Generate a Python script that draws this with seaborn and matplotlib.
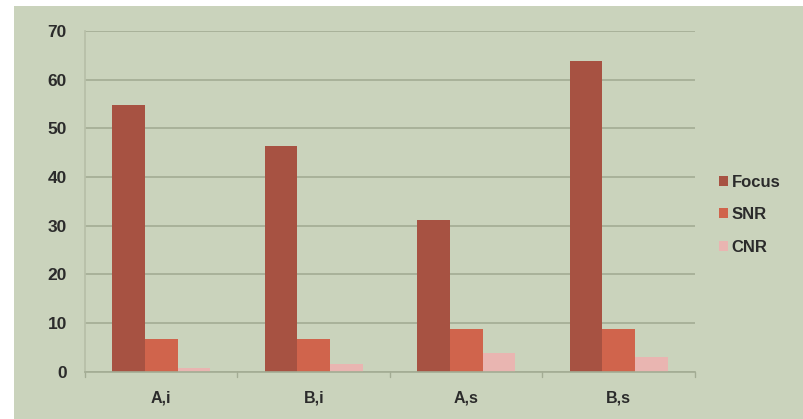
import matplotlib
matplotlib.use("Agg")
import matplotlib.pyplot as plt
from matplotlib.patches import Rectangle
import seaborn as sns
import pandas as pd

categories = ["A,i", "B,i", "A,s", "B,s"]
focus = [54.8, 46.3, 31.1, 63.8]
snr = [6.7, 6.6, 8.7, 8.7]
cnr = [0.8, 1.5, 3.9, 3.0]
series_names = ["Focus", "SNR", "CNR"]
y_ticks = [0, 10, 20, 30, 40, 50, 60, 70]

bg = "#cad3bc"
grid_col = "#a3ac94"
text_col = "#2b2b2b"
palette = {"Focus": "#a75242", "SNR": "#d0644c", "CNR": "#e9b5b1"}

rows = []
for name, vals in zip(series_names, [focus, snr, cnr]):
    for cat, v in zip(categories, vals):
        rows.append({"cat": cat, "series": name, "value": v})
df = pd.DataFrame(rows)

sns.set_theme(style="white")
plt.rcParams["font.family"] = ["Liberation Sans", "DejaVu Sans"]

fig = plt.figure(figsize=(8.04, 4.19), dpi=100)
fig.patch.set_facecolor("white")
fig.patches.append(Rectangle((14 / 804, 0), 1 - 14 / 804, 1 - 6 / 419,
                             transform=fig.transFigure, facecolor=bg,
                             edgecolor="none", zorder=-10))

ax = fig.add_axes([85 / 804, 47.5 / 419, 610 / 804, 340.5 / 419])
ax.set_facecolor(bg)

sns.barplot(data=df, x="cat", y="value", hue="series", order=categories,
            hue_order=series_names, palette=palette, width=0.64, gap=0,
            saturation=1, ax=ax, edgecolor="none", legend=True)

ax.set_ylim(0, 70)
ax.set_xlim(-0.5, 3.5)
ax.set_yticks(y_ticks)
ax.set_yticklabels([str(t) for t in y_ticks], fontsize=12.5, fontweight="bold",
                   color=text_col)
ax.set_xticks(range(len(categories)))
ax.set_xticklabels(categories, fontsize=11.5, fontweight="bold", color=text_col)
ax.set_xlabel("")
ax.set_ylabel("")
ax.yaxis.grid(True, color=grid_col, linewidth=1.2)
ax.set_axisbelow(True)
for s in ["top", "right"]:
    ax.spines[s].set_visible(False)
ax.spines["left"].set_color("#b7bfa8")
ax.spines["bottom"].set_color(grid_col)
ax.spines["bottom"].set_linewidth(1.2)
ax.tick_params(axis="y", length=0, pad=13)
ax.tick_params(axis="x", length=0, pad=14)

# small separators between category groups
for xb in [-0.5, 0.5, 1.5, 2.5, 3.5]:
    ax.plot([xb, xb], [0, -1.2], color=grid_col, lw=1, clip_on=False)

leg = ax.legend(loc="center left", bbox_to_anchor=(1.014, 0.46), frameon=False,
                handlelength=0.55, handleheight=0.55, handletextpad=0.25,
                labelspacing=1.05, prop={"size": 12, "weight": "bold"})
for t in leg.get_texts():
    t.set_color(text_col)

fig.savefig("out.png", dpi=100, facecolor=fig.get_facecolor())
